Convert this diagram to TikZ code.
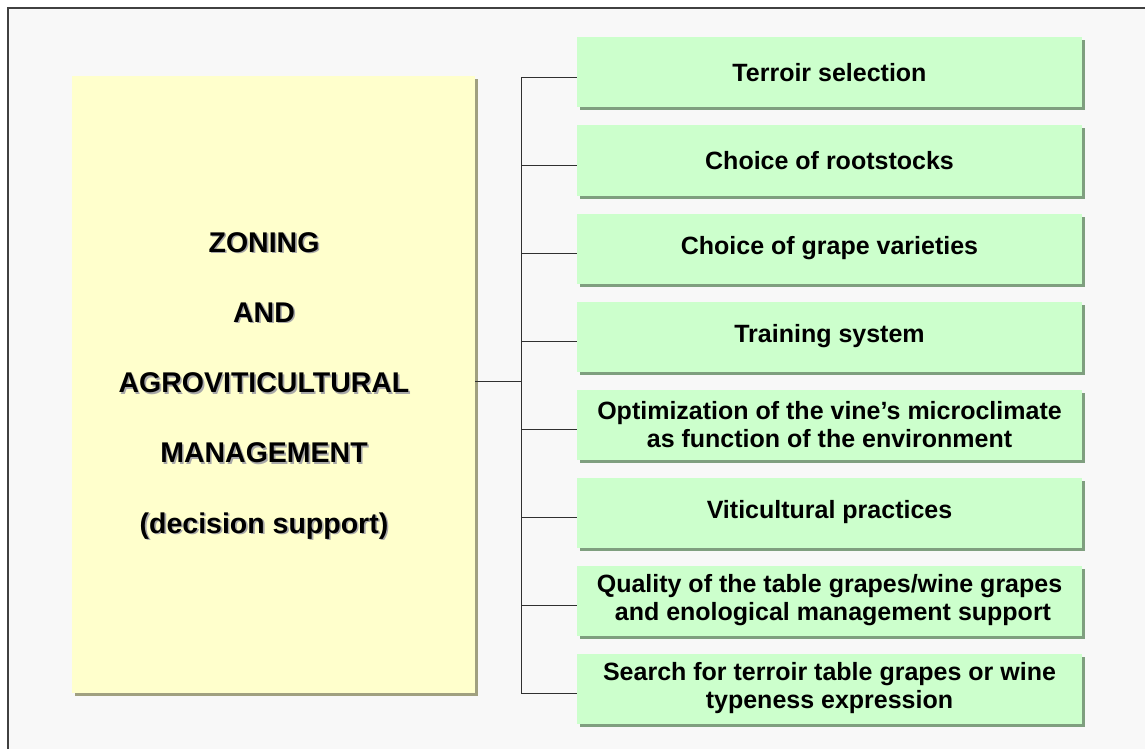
\documentclass[tikz,border=0pt]{standalone}
\usepackage{fontspec}
\setmainfont{Liberation Sans}
\usetikzlibrary{shadows}

\definecolor{bgpanel}{HTML}{F8F8F8}
\definecolor{framegray}{HTML}{404040}
\definecolor{boxgreen}{HTML}{CCFFCC}
\definecolor{greenshade}{HTML}{7F9F7F}
\definecolor{boxyellow}{HTML}{FFFFCC}
\definecolor{yellowshade}{HTML}{A0A080}
\definecolor{textshade}{HTML}{A8A8A8}
\definecolor{linkgray}{HTML}{303030}

% bold heading word with a soft grey offset copy behind it
\newcommand\shadedword[1]{\rlap{\kern1.6pt\raisebox{-1.6pt}{\textcolor{textshade}{#1}}}#1}

\begin{document}
\begin{tikzpicture}[x=1pt,y=-1pt,
  taskbox/.style={fill=boxgreen, minimum width=505pt, minimum height=70pt,
    inner sep=0pt, align=center, font=\bfseries\fontsize{25}{28}\selectfont,
    drop shadow={shadow xshift=3pt, shadow yshift=-3pt, fill=greenshade, opacity=1}},
  zonebox/.style={fill=boxyellow, minimum width=403pt, minimum height=617pt,
    inner sep=0pt,
    drop shadow={shadow xshift=3pt, shadow yshift=-3pt, fill=yellowshade, opacity=1}},
  zonetext/.style={inner sep=0pt, align=center, font=\bfseries\fontsize{28.5}{70.3}\selectfont},
  link/.style={draw=linkgray, line width=1.4pt}]

\useasboundingbox (0,0) rectangle (1145,749);
\fill[white] (0,0) rectangle (1145,749);
\fill[bgpanel] (7.5,8.5) rectangle (1145,749);
\draw[framegray, line width=2pt] (7.5,749) -- (7.5,8.5) -- (1145,8.5);

% central topic
\node[zonebox] (zoning) at (273.5,384.5) {};
\node[zonetext] (zoningtext) at ([xshift=-9.5pt, yshift=-2pt]zoning.center)
  {\shadedword{ZONING}\\\shadedword{AND}\\\shadedword{AGROVITICULTURAL}\\
   \shadedword{MANAGEMENT}\\\shadedword{(decision support)}};

% application areas
\node[taskbox] (t1) at (829.5,72.5)  {Terroir selection};
\node[taskbox] (t2) at (829.5,160.5) {Choice of rootstocks};
\node[taskbox] (t3) at (829.5,248.5) {Choice of grape varieties};
\node[taskbox] (t4) at (829.5,336.5) {Training system};
\node[taskbox] (t5) at (829.5,424.5) {Optimization of the vine’s microclimate\\as function of the environment};
\node[taskbox] (t6) at (829.5,512.5) {Viticultural practices};
\node[taskbox] (t7) at (829.5,600.5) {Quality of the table grapes/wine grapes\\\ and enological management support};
\node[taskbox] (t8) at (829.5,688.5) {Search for terroir table grapes or wine\\typeness expression};

% bracket connector
\coordinate (trunk) at (521.5,0);
\draw[link] ([yshift=3pt]zoning.east) -- ([yshift=3pt]zoning.east -| trunk);
\draw[link] ([yshift=-5pt]t1.west -| trunk) -- ([yshift=-5pt]t8.west -| trunk);
\foreach \i in {1,...,8}
  \draw[link] ([yshift=-5pt]t\i.west) -- ([yshift=-5pt]t\i.west -| trunk);
\end{tikzpicture}
\end{document}
